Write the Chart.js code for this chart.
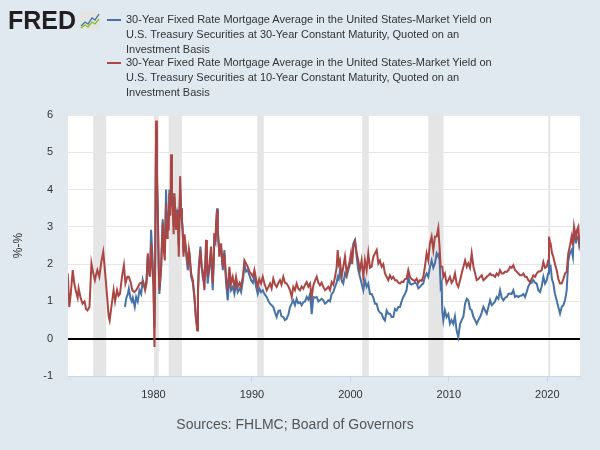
<!DOCTYPE html>
<html>
<head>
<meta charset="utf-8">
<script src="https://cdn.jsdelivr.net/npm/chart.js@4"></script>
<style>
  html, body { margin:0; padding:0; background:#e1e9f0; }
  #wrap { position:relative; width:600px; height:450px; overflow:hidden; font-family:"Liberation Sans", Arial, sans-serif; }
  #c { position:absolute; left:0; top:0; }
  #logo { position:absolute; left:8px; top:6px; font-weight:bold; font-size:25px; color:#231f20; letter-spacing:0px; font-family:"Liberation Sans", Arial, sans-serif; }
  #icon { position:absolute; left:80px; top:12px; }
  .leg { position:absolute; left:126px; width:470px; font-size:11px; line-height:15px; color:#333; white-space:nowrap; }
  .sw { position:absolute; left:107px; width:14px; height:2px; }
  #src { position:absolute; left:0; width:590px; top:416px; text-align:center; font-size:14px; color:#555; }
</style>
</head>
<body>
<div id="wrap">
  <canvas id="c" width="600" height="450"></canvas>
  <div id="logo">FRED</div>
  <svg id="icon" width="20" height="18" viewBox="0 0 20 18">
    <rect x="0" y="0" width="20" height="18" rx="2" fill="#e4e4e4"/>
    <polyline points="1,14 5,10 8,12 12,6 15,8 19,2" fill="none" stroke="#4572a7" stroke-width="1.3"/>
    <polyline points="1,16 5,13 8,15 12,10 15,12 19,7" fill="none" stroke="#8bbc21" stroke-width="1.3"/>
  </svg>
  <div class="sw" style="top:19px;background:#4572a7"></div>
  <div class="leg" style="top:12px">30-Year Fixed Rate Mortgage Average in the United States-Market Yield on<br>U.S. Treasury Securities at 30-Year Constant Maturity, Quoted on an<br>Investment Basis</div>
  <div class="sw" style="top:62px;background:#aa4643"></div>
  <div class="leg" style="top:55px">30-Year Fixed Rate Mortgage Average in the United States-Market Yield on<br>U.S. Treasury Securities at 10-Year Constant Maturity, Quoted on an<br>Investment Basis</div>
  <div id="src">Sources: FHLMC; Board of Governors</div>
</div>
<script>
const seriesNames = [
  "30-Year Fixed Rate Mortgage Average in the United States-Market Yield on U.S. Treasury Securities at 30-Year Constant Maturity, Quoted on an Investment Basis",
  "30-Year Fixed Rate Mortgage Average in the United States-Market Yield on U.S. Treasury Securities at 10-Year Constant Maturity, Quoted on an Investment Basis"
];
const xTicks = [1980, 1990, 2000, 2010, 2020];
const yTicks = [-1, 0, 1, 2, 3, 4, 5, 6];
const recessionStart = [1973.88, 1980.04, 1981.54, 1990.54, 2001.2, 2007.92, 2020.1];
const recessionEnd   = [1975.2, 1980.54, 1982.88, 1991.2, 2001.87, 2009.46, 2020.3];

const redDates = [1971.3,1971.45,1971.6,1971.8,1971.95,1972.1,1972.3,1972.4,1972.6,1972.8,1973.0,1973.15,1973.3,1973.5,1973.7,1973.85,1974.05,1974.2,1974.3,1974.5,1974.7,1974.9,1975.05,1975.3,1975.45,1975.55,1975.7,1975.95,1976.1,1976.3,1976.45,1976.6,1976.8,1977.0,1977.15,1977.35,1977.5,1977.7,1977.85,1978.05,1978.25,1978.45,1978.6,1978.8,1978.95,1979.15,1979.3,1979.42,1979.55,1979.66,1979.76,1979.9,1980.0,1980.1,1980.17,1980.27,1980.35,1980.44,1980.52,1980.6,1980.77,1980.94,1981.05,1981.15,1981.28,1981.38,1981.45,1981.55,1981.62,1981.72,1981.79,1981.88,1981.96,1982.05,1982.13,1982.22,1982.3,1982.4,1982.47,1982.57,1982.65,1982.71,1982.8,1982.88,1982.97,1983.05,1983.15,1983.25,1983.38,1983.49,1983.6,1983.66,1983.75,1983.83,1984.0,1984.1,1984.17,1984.3,1984.44,1984.52,1984.6,1984.77,1984.9,1985.0,1985.17,1985.34,1985.43,1985.51,1985.68,1985.85,1986.02,1986.1,1986.19,1986.3,1986.36,1986.46,1986.53,1986.6,1986.7,1986.87,1987.04,1987.2,1987.37,1987.54,1987.71,1987.88,1988.05,1988.22,1988.39,1988.56,1988.75,1988.9,1989.1,1989.24,1989.4,1989.57,1989.75,1989.91,1990.1,1990.25,1990.42,1990.59,1990.75,1990.93,1991.1,1991.27,1991.5,1991.7,1991.84,1992.0,1992.17,1992.35,1992.51,1992.7,1992.85,1993.0,1993.19,1993.35,1993.53,1993.7,1993.87,1994.04,1994.2,1994.37,1994.54,1994.7,1994.88,1995.05,1995.22,1995.4,1995.56,1995.73,1995.9,1996.07,1996.24,1996.4,1996.58,1996.75,1996.91,1997.08,1997.25,1997.42,1997.59,1997.76,1997.93,1998.1,1998.27,1998.44,1998.6,1998.71,1998.82,1998.94,1999.11,1999.28,1999.45,1999.62,1999.79,1999.95,2000.06,2000.18,2000.3,2000.47,2000.64,2000.8,2000.97,2001.14,2001.31,2001.48,2001.65,2001.82,2001.99,2002.16,2002.33,2002.5,2002.67,2002.84,2003.0,2003.17,2003.34,2003.51,2003.68,2003.85,2004.02,2004.19,2004.36,2004.53,2004.7,2004.87,2005.04,2005.2,2005.37,2005.54,2005.71,2005.88,2006.05,2006.22,2006.39,2006.56,2006.73,2006.9,2007.07,2007.24,2007.4,2007.57,2007.74,2007.91,2008.08,2008.25,2008.42,2008.59,2008.76,2008.93,2009.03,2009.17,2009.33,2009.44,2009.6,2009.77,2009.95,2010.11,2010.28,2010.45,2010.62,2010.79,2010.96,2011.14,2011.3,2011.48,2011.65,2011.82,2011.98,2012.15,2012.32,2012.5,2012.67,2012.83,2013.0,2013.17,2013.34,2013.51,2013.68,2013.85,2014.02,2014.19,2014.36,2014.52,2014.69,2014.86,2015.03,2015.2,2015.37,2015.54,2015.71,2015.88,2016.05,2016.22,2016.38,2016.55,2016.72,2016.89,2017.06,2017.23,2017.4,2017.57,2017.74,2017.9,2018.07,2018.24,2018.41,2018.58,2018.75,2018.92,2019.09,2019.26,2019.43,2019.6,2019.77,2019.94,2020.08,2020.17,2020.25,2020.34,2020.47,2020.61,2020.78,2020.95,2021.12,2021.29,2021.46,2021.63,2021.8,2021.97,2022.13,2022.3,2022.47,2022.6,2022.71,2022.83,2022.91,2023.0,2023.15,2023.25,2023.32];
const redValues = [1.75,0.85,1.2,1.84,1.5,1.3,1.1,1.35,1.1,0.94,1.0,0.8,0.76,0.85,2.02,1.8,1.57,1.75,1.84,1.66,2.05,2.33,1.9,1.1,0.6,0.49,0.8,1.3,1.0,1.3,1.15,1.2,1.66,1.97,1.48,1.66,1.66,1.5,1.3,1.25,1.3,1.4,1.48,1.5,1.53,1.3,1.5,2.29,1.9,1.66,2.56,1.93,1.4,-0.22,2.0,5.85,4.5,3.46,2.2,1.3,1.84,3.1,2.38,2.1,3.64,2.7,3.19,2.9,3.9,3.3,4.95,3.6,3.55,2.8,3.9,3.3,2.92,3.3,3.46,2.2,3.4,4.36,3.5,3.19,2.9,2.2,2.8,2.56,2.2,2.02,2.4,2.29,2.0,1.75,1.57,1.3,1.12,0.6,0.22,1.2,1.84,2.38,1.9,1.84,1.3,2.65,2.0,1.66,2.02,2.47,1.48,2.0,2.83,2.6,3.1,3.46,2.9,2.65,2.2,2.56,1.93,2.29,1.66,1.3,1.93,1.48,1.66,1.39,1.66,1.39,1.5,1.39,1.7,2.1,2.02,1.93,1.8,1.75,1.66,1.84,1.6,1.39,1.6,1.48,1.66,1.48,1.3,1.4,1.48,1.35,1.61,1.45,1.39,1.5,1.57,1.45,1.66,1.5,1.48,1.4,1.3,1.12,1.39,1.3,1.48,1.35,1.3,1.4,1.34,1.45,1.52,1.4,1.48,1.12,1.43,1.55,1.66,1.5,1.43,1.5,1.39,1.3,1.34,1.39,1.3,1.52,1.45,1.66,1.9,2.38,2.0,2.1,1.66,1.93,2.2,1.75,1.93,2.1,2.29,2.0,2.47,2.6,2.29,2.1,1.84,2.1,1.66,2.1,1.84,2.29,1.9,1.93,2.2,2.29,2.38,2.02,2.1,1.93,2.0,1.75,1.66,1.57,1.7,1.61,1.66,1.57,1.57,1.5,1.48,1.53,1.52,1.6,1.61,1.84,1.66,1.6,1.57,1.55,1.61,1.5,1.57,1.55,1.66,1.93,2.29,2.1,2.56,2.74,2.38,2.74,2.74,2.97,2.56,1.93,1.93,1.66,1.75,1.48,1.57,1.66,1.5,1.57,1.75,1.48,1.39,1.57,1.75,1.93,2.1,1.93,2.02,1.9,2.29,1.93,1.75,1.57,1.6,1.66,1.7,1.57,1.61,1.66,1.7,1.75,1.7,1.7,1.66,1.75,1.7,1.84,1.75,1.75,1.8,1.79,1.84,1.93,1.9,1.97,1.84,1.8,1.75,1.7,1.7,1.75,1.66,1.66,1.57,1.52,1.6,1.7,1.66,1.75,1.8,1.8,1.84,2.06,1.9,1.93,2.1,2.74,2.6,2.56,2.3,2.2,2.0,1.84,1.6,1.48,1.48,1.6,1.75,1.8,2.29,2.5,2.74,2.5,3.0,2.8,2.66,2.9,3.0,2.6,2.7];

const blueDates = [1977.1,1977.25,1977.4,1977.5,1977.65,1977.8,1977.9,1978.1,1978.24,1978.4,1978.58,1978.75,1978.91,1979.05,1979.18,1979.3,1979.42,1979.55,1979.66,1979.76,1979.9,1980.0,1980.1,1980.17,1980.27,1980.35,1980.44,1980.52,1980.6,1980.77,1980.94,1981.05,1981.15,1981.28,1981.38,1981.45,1981.55,1981.62,1981.72,1981.79,1981.88,1981.96,1982.05,1982.13,1982.22,1982.3,1982.4,1982.47,1982.57,1982.65,1982.71,1982.8,1982.88,1982.97,1983.05,1983.15,1983.25,1983.38,1983.49,1983.6,1983.66,1983.75,1983.83,1984.0,1984.1,1984.17,1984.3,1984.44,1984.52,1984.6,1984.77,1984.9,1985.0,1985.17,1985.34,1985.43,1985.51,1985.68,1985.85,1986.02,1986.1,1986.19,1986.3,1986.36,1986.46,1986.53,1986.6,1986.7,1986.87,1987.04,1987.2,1987.37,1987.54,1987.71,1987.88,1988.05,1988.22,1988.39,1988.56,1988.75,1988.9,1989.1,1989.24,1989.4,1989.57,1989.75,1989.91,1990.1,1990.25,1990.42,1990.59,1990.75,1990.93,1991.1,1991.27,1991.5,1991.7,1991.84,1992.0,1992.17,1992.35,1992.51,1992.7,1992.85,1993.0,1993.19,1993.35,1993.53,1993.7,1993.87,1994.04,1994.2,1994.37,1994.54,1994.7,1994.88,1995.05,1995.22,1995.4,1995.56,1995.73,1995.9,1996.07,1996.24,1996.4,1996.58,1996.75,1996.91,1997.08,1997.25,1997.42,1997.59,1997.76,1997.93,1998.1,1998.27,1998.44,1998.6,1998.71,1998.82,1998.94,1999.11,1999.28,1999.45,1999.62,1999.79,1999.95,2000.06,2000.18,2000.3,2000.47,2000.64,2000.8,2000.97,2001.14,2001.31,2001.48,2001.65,2001.82,2001.99,2002.16,2002.33,2002.5,2002.67,2002.84,2003.0,2003.17,2003.34,2003.51,2003.68,2003.85,2004.02,2004.19,2004.36,2004.53,2004.7,2004.87,2005.04,2005.2,2005.37,2005.54,2005.71,2005.88,2006.05,2006.22,2006.39,2006.56,2006.73,2006.9,2007.07,2007.24,2007.4,2007.57,2007.74,2007.91,2008.08,2008.25,2008.42,2008.59,2008.76,2008.93,2009.03,2009.17,2009.27,2009.33,2009.44,2009.6,2009.77,2009.95,2010.11,2010.28,2010.45,2010.62,2010.79,2010.96,2011.14,2011.3,2011.48,2011.65,2011.82,2011.98,2012.15,2012.32,2012.5,2012.67,2012.83,2013.0,2013.17,2013.34,2013.51,2013.68,2013.85,2014.02,2014.19,2014.36,2014.52,2014.69,2014.86,2015.03,2015.2,2015.37,2015.54,2015.71,2015.88,2016.05,2016.22,2016.38,2016.55,2016.72,2016.89,2017.06,2017.23,2017.4,2017.57,2017.74,2017.9,2018.07,2018.24,2018.41,2018.58,2018.75,2018.92,2019.09,2019.26,2019.43,2019.6,2019.77,2019.94,2020.08,2020.17,2020.25,2020.34,2020.47,2020.61,2020.78,2020.95,2021.12,2021.29,2021.46,2021.63,2021.8,2021.97,2022.13,2022.3,2022.47,2022.6,2022.71,2022.83,2022.91,2023.0,2023.15,2023.25,2023.32];
const blueValues = [0.85,1.1,1.2,1.34,1.1,1.0,1.1,0.85,1.12,1.0,1.3,1.2,1.57,1.4,1.39,1.6,2.2,1.8,1.9,2.92,2.2,1.5,0.3,2.1,5.6,4.3,3.3,2.0,1.2,1.9,3.2,2.5,2.3,4.0,3.0,3.4,3.2,4.0,3.5,4.0,3.7,3.9,3.0,3.8,3.4,3.25,3.4,3.3,2.5,3.5,4.0,3.5,3.25,2.9,2.3,2.6,2.5,2.1,1.84,2.3,2.29,1.9,1.66,1.5,1.25,1.05,0.6,0.3,1.3,1.9,2.47,1.9,1.66,1.48,2.4,1.9,1.48,1.9,2.2,1.3,1.9,2.7,2.6,3.0,3.5,2.9,2.6,2.29,2.4,1.84,2.38,1.5,1.03,1.66,1.3,1.39,1.2,1.48,1.25,1.35,1.25,1.6,2.0,1.8,1.84,1.7,1.57,1.5,1.66,1.4,1.2,1.35,1.25,1.3,1.2,1.12,1.0,0.94,0.9,0.85,0.7,0.58,0.75,0.76,0.6,0.58,0.5,0.53,0.65,0.85,0.94,1.03,0.9,1.07,0.95,0.98,0.9,0.98,1.0,1.12,1.05,1.2,0.66,1.12,1.1,1.12,1.0,1.03,1.07,1.03,0.94,0.98,1.03,1.0,1.2,1.25,1.39,1.5,1.66,1.6,1.84,1.57,1.48,1.75,1.66,1.84,2.0,2.1,2.2,2.56,2.65,2.2,1.84,1.66,1.48,1.3,1.57,1.39,1.48,1.2,1.2,1.1,0.94,0.94,0.76,0.7,0.67,0.55,0.49,0.76,0.67,0.67,0.58,0.58,0.8,0.76,0.85,0.85,1.0,1.12,1.2,1.3,1.66,1.48,1.45,1.48,1.5,1.48,1.35,1.39,1.45,1.48,1.66,1.75,1.66,1.93,2.1,1.9,2.02,2.29,2.2,2.29,1.39,1.48,0.76,0.49,0.76,0.58,0.66,0.4,0.5,0.4,0.6,0.22,0.04,0.4,0.5,0.6,0.94,1.07,1.03,0.8,0.76,0.58,0.5,0.4,0.5,0.58,0.7,0.85,0.76,0.67,0.85,1.03,0.9,0.94,1.0,1.12,1.07,1.3,1.1,1.03,1.1,1.12,1.2,1.21,1.2,1.3,1.12,1.15,1.12,1.15,1.16,1.2,1.12,1.25,1.4,1.48,1.5,1.57,1.5,1.48,1.3,1.25,1.4,1.66,1.48,1.57,1.75,2.1,1.9,1.93,1.6,1.48,1.2,1.03,0.85,0.67,0.85,0.9,1.03,1.3,2.1,2.3,2.38,2.2,3.0,2.7,2.56,2.7,2.74,2.5,2.6];

const toPoints = (xs, ys) => xs.map((x, i) => ({ x: x, y: ys[i] }));

const bgPlugin = {
  id: 'fredBg',
  beforeDraw(chart) {
    const { ctx, chartArea: a, scales } = chart;
    ctx.save();
    ctx.fillStyle = '#ffffff';
    ctx.fillRect(a.left, a.top, a.right - a.left, a.bottom - a.top);
    ctx.fillStyle = '#e5e5e5';
    recessionStart.forEach((s, i) => {
      const x1 = Math.max(a.left, scales.x.getPixelForValue(s));
      const x2 = Math.min(a.right, scales.x.getPixelForValue(recessionEnd[i]));
      ctx.fillRect(x1, a.top, x2 - x1, a.bottom - a.top);
    });
    ctx.restore();
  }
};

const FONT = '"Liberation Sans", Arial, sans-serif';

new Chart(document.getElementById('c'), {
  type: 'line',
  data: {
    datasets: [
      { label: seriesNames[1], data: toPoints(redDates, redValues), borderColor: '#aa4643', backgroundColor: '#aa4643', borderWidth: 2, pointRadius: 0, tension: 0, order: 1 },
      { label: seriesNames[0], data: toPoints(blueDates, blueValues), borderColor: '#4572a7', backgroundColor: '#4572a7', borderWidth: 2, pointRadius: 0, tension: 0, order: 2 }
    ]
  },
  options: {
    responsive: false,
    animation: false,
    layout: { padding: { left: 0, right: 20, top: 115, bottom: 0 } },
    plugins: { legend: { display: false }, tooltip: { enabled: false } },
    scales: {
      x: {
        type: 'linear',
        min: 1971.32,
        max: 2023.32,
        afterFit: s => { s.height = 74; },
        afterBuildTicks: s => { s.ticks = xTicks.map(v => ({ value: v })); },
        border: { display: true, color: '#ccd6eb', width: 1 },
        grid: { drawOnChartArea: false, drawTicks: true, tickLength: 6, color: '#ccd6eb' },
        ticks: { padding: 6, color: '#333', font: { family: FONT, size: 11 }, callback: v => String(v), maxRotation: 0 }
      },
      y: {
        min: -1,
        max: 6,
        afterFit: s => { s.width = 68; },
        afterBuildTicks: s => { s.ticks = yTicks.map(v => ({ value: v })); },
        border: { display: false },
        grid: {
          drawTicks: false,
          color: ctx => ctx.tick && ctx.tick.value === 0 ? '#000000' : '#e6e6e6',
          lineWidth: ctx => ctx.tick && ctx.tick.value === 0 ? 2 : 1
        },
        ticks: { padding: 15, color: '#333', font: { family: FONT, size: 11 }, callback: v => String(v) },
        title: { display: true, text: '%-%', color: '#333', font: { family: FONT, size: 12 }, padding: { top: 11, bottom: 0 } }
      }
    }
  },
  plugins: [bgPlugin]
});
</script>
</body>
</html>
